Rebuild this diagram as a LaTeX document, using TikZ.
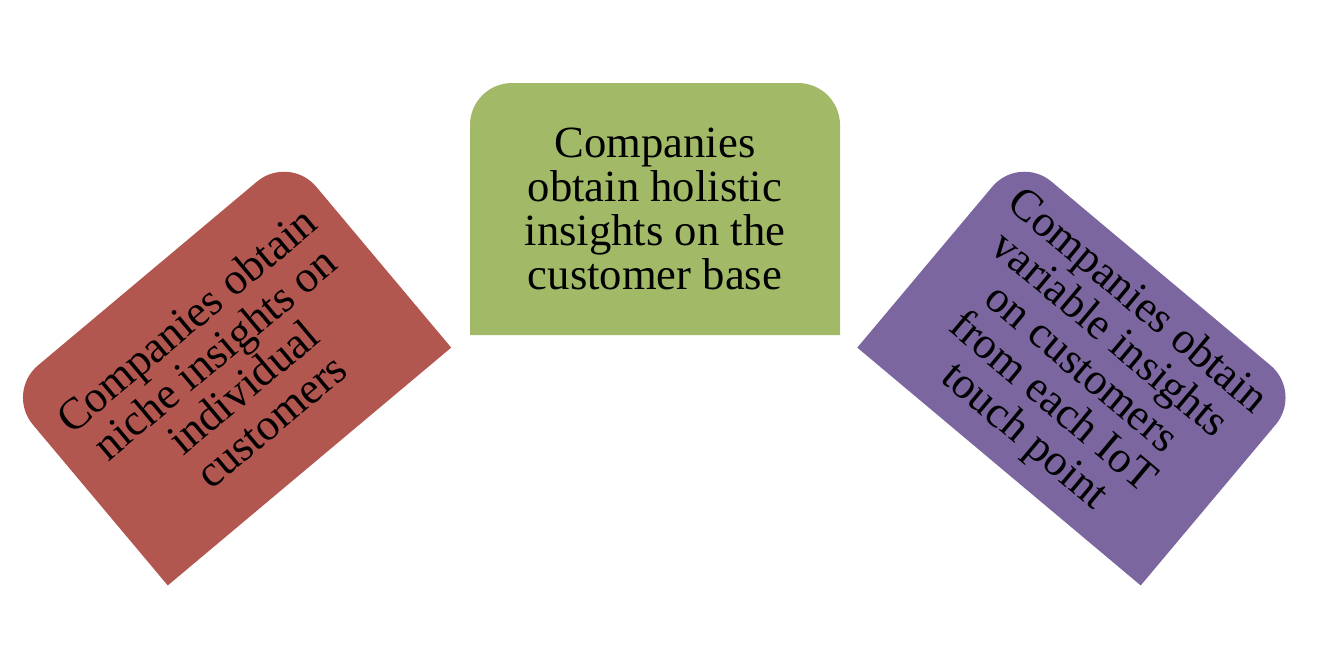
\documentclass[tikz,border=0pt]{standalone}
\usepackage{fontspec}
\setmainfont{Liberation Serif}
\definecolor{nicheRed}{RGB}{178,87,80}
\definecolor{holisticGreen}{RGB}{162,185,104}
\definecolor{variablePurple}{RGB}{123,102,160}
\tikzset{
    tab/.pic={\fill[pic actions] (-1.85,-1.26) -- (1.85,-1.26) -- (1.85,0.84)
        arc[start angle=0,end angle=90,radius=0.42] -- (-1.43,1.26)
        arc[start angle=90,end angle=180,radius=0.42] -- cycle;}
}

\begin{document}
\begin{tikzpicture}[every node/.style={align=center,inner sep=0pt,font=\fontsize{12.7}{12.5}\selectfont}]
            \useasboundingbox (0,0) rectangle (13.18,6.60);

            \pic[fill=nicheRed,rotate=40] (nicheTab) at (2.285,2.90) {tab};
            \pic[fill=holisticGreen] (holisticTab) at (6.55,4.51) {tab};
            \pic[fill=variablePurple,rotate=-40] (variableTab) at (10.80,2.90) {tab};

            \node[rotate=40] (niche) at (2.285,2.90) {Companies obtain\\niche insights on\\individual\\customers};
            \node (holistic) at (6.55,4.51) {Companies\\obtain holistic\\insights on the\\customer base};
            \node[rotate=-40] (variable) at (10.80,2.90) {Companies obtain\\variable insights\\on customers\\from each IoT\\touch point};
        \end{tikzpicture}
\end{document}
